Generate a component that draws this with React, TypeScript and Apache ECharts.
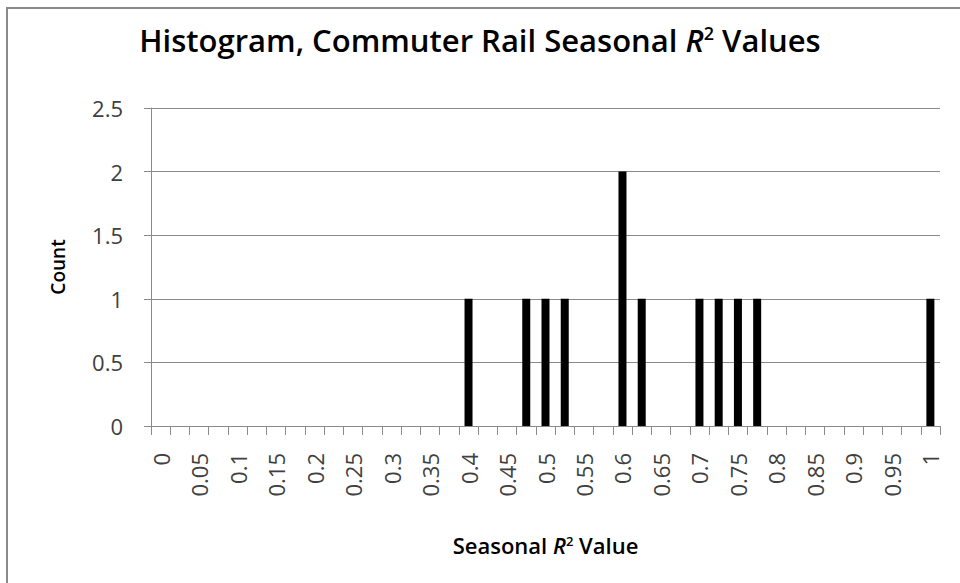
import React, { useEffect, useRef } from "react";
import * as echarts from "echarts";

const binValues: string[] = [
  "0", "0.025", "0.05", "0.075", "0.1", "0.125", "0.15", "0.175", "0.2", "0.225",
  "0.25", "0.275", "0.3", "0.325", "0.35", "0.375", "0.4", "0.425", "0.45", "0.475",
  "0.5", "0.525", "0.55", "0.575", "0.6", "0.625", "0.65", "0.675", "0.7", "0.725",
  "0.75", "0.775", "0.8", "0.825", "0.85", "0.875", "0.9", "0.925", "0.95", "0.975", "1",
];
const counts: number[] = [
  0, 0, 0, 0, 0, 0, 0, 0, 0, 0,
  0, 0, 0, 0, 0, 0, 1, 0, 0, 1,
  1, 1, 0, 0, 2, 1, 0, 0, 1, 1,
  1, 1, 0, 0, 0, 0, 0, 0, 0, 0, 1,
];
const yTicks = { min: 0, max: 2.5, interval: 0.5 };

const FONT = "'Open Sans', 'Noto Sans', sans-serif";

export default function App() {
  const ref = useRef<HTMLDivElement>(null);
  useEffect(() => {
    document.body.style.margin = "0";
    const chart = echarts.init(ref.current!, null, { renderer: "svg" });
    chart.setOption({
      animation: false,
      backgroundColor: "#ffffff",
      textStyle: { fontFamily: FONT },
      graphic: [
        {
          type: "rect",
          shape: { x: 7, y: 8, width: 1200, height: 1200 },
          style: { fill: "none", stroke: "#8a8a8a", lineWidth: 2 },
          silent: true,
        },
      ],
      title: {
        text: "{n|Histogram, Commuter Rail Seasonal }{i|R}{s|2}{n| Values}",
        left: "center",
        top: 19,
        textStyle: {
          rich: {
            n: { fontFamily: FONT, fontSize: 31, fontWeight: 600, color: "#000" },
            i: { fontFamily: FONT, fontSize: 31, fontWeight: 600, fontStyle: "italic", color: "#000" },
            s: { fontFamily: FONT, fontSize: 18, fontWeight: 600, color: "#000", verticalAlign: "top", padding: [0, 0, 12, 0] },
          },
        },
      },
      grid: { left: 151, right: 20, top: 108, height: 318, containLabel: false },
      xAxis: {
        type: "category",
        data: binValues,
        boundaryGap: true,
        name: "{n|Seasonal }{i|R}{s|2}{n| Value}",
        nameLocation: "middle",
        nameGap: 108,
        nameTextStyle: {
          rich: {
            n: { fontFamily: FONT, fontSize: 22, fontWeight: 600, color: "#000" },
            i: { fontFamily: FONT, fontSize: 22, fontWeight: 600, fontStyle: "italic", color: "#000" },
            s: { fontFamily: FONT, fontSize: 13, fontWeight: 600, color: "#000", verticalAlign: "top", padding: [0, 0, 9, 0] },
          },
        },
        axisLine: { lineStyle: { color: "#8a8a8a", width: 1 } },
        axisTick: { show: true, interval: 0, length: 9, lineStyle: { color: "#8a8a8a" } },
        axisLabel: {
          interval: 1,
          rotate: 90,
          margin: 27,
          fontSize: 22,
          color: "#404040",
          fontFamily: FONT,
          padding: [8, 0, 0, 0],
        },
        splitLine: { show: false },
      },
      yAxis: {
        type: "value",
        min: yTicks.min,
        max: yTicks.max,
        interval: yTicks.interval,
        name: "Count",
        nameLocation: "middle",
        nameGap: 84,
        nameRotate: 90,
        nameTextStyle: { fontFamily: FONT, fontSize: 19, fontWeight: 600, color: "#000" },
        axisLine: { show: true, lineStyle: { color: "#8a8a8a" } },
        axisTick: { show: true, length: 7, lineStyle: { color: "#8a8a8a" } },
        axisLabel: { fontSize: 22, color: "#404040", margin: 28, fontFamily: FONT },
        splitLine: { show: true, lineStyle: { color: "#8a8a8a", width: 1 } },
      },
      series: [
        {
          type: "bar",
          data: counts,
          barWidth: 8,
          itemStyle: { color: "#000000" },
        },
      ],
    });
    return () => chart.dispose();
  }, []);
  return <div ref={ref} style={{ width: 960, height: 583 }} />;
}
